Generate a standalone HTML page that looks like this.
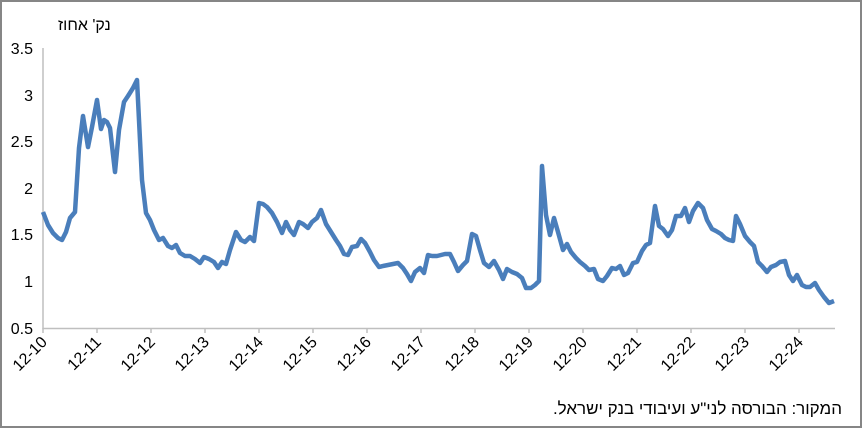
<!DOCTYPE html>
<html><head><meta charset="utf-8"><style>
body{margin:0;background:#fff}
svg{display:block}
text{font-family:"Liberation Sans","Noto Sans CJK SC",sans-serif;fill:#000}
</style></head><body>
<svg width="862" height="428" viewBox="0 0 862 428">
<rect x="1" y="1" width="860" height="426" fill="#fff" stroke="#868686" stroke-width="2"/>
<text x="58" y="30" font-size="16" text-anchor="end" direction="rtl">נק' אחוז</text>
<g font-size="16" text-anchor="end">
<text x="33" y="54">3.5</text><text x="33" y="101">3</text><text x="33" y="147">2.5</text>
<text x="33" y="194">2</text><text x="33" y="240">1.5</text><text x="33" y="287">1</text><text x="33" y="334">0.5</text>
</g>
<g stroke="#bfbfbf" stroke-width="1.5">
<line x1="43" y1="48" x2="43" y2="329"/>
<line x1="43" y1="328.5" x2="835" y2="328.5"/>
<path d="M43 328v5M97 328v5M151 328v5M205 328v5M259 328v5M313 328v5M367 328v5M421 328v5M475 328v5M529 328v5M583 328v5M637 328v5M691 328v5M745 328v5M799 328v5"/>
</g>
<g font-size="16" text-anchor="end">
<text transform="translate(48,343) rotate(-45)">12-10</text>
<text transform="translate(102,343) rotate(-45)">12-11</text>
<text transform="translate(156,343) rotate(-45)">12-12</text>
<text transform="translate(210,343) rotate(-45)">12-13</text>
<text transform="translate(264,343) rotate(-45)">12-14</text>
<text transform="translate(318,343) rotate(-45)">12-15</text>
<text transform="translate(372,343) rotate(-45)">12-16</text>
<text transform="translate(426,343) rotate(-45)">12-17</text>
<text transform="translate(480,343) rotate(-45)">12-18</text>
<text transform="translate(534,343) rotate(-45)">12-19</text>
<text transform="translate(588,343) rotate(-45)">12-20</text>
<text transform="translate(642,343) rotate(-45)">12-21</text>
<text transform="translate(696,343) rotate(-45)">12-22</text>
<text transform="translate(750,343) rotate(-45)">12-23</text>
<text transform="translate(804,343) rotate(-45)">12-24</text>
</g>
<polyline fill="none" stroke="#4a7ebb" stroke-width="4.5" stroke-linejoin="round" points="43,212 48,225 53,233 58,238 62,240 66,232 70,218 75,212 79,148 83,116 88,147 92,127 97,100 101,129 104,120 107,122 110,128 115,172 119,130 124,102 128,96 133,88 137,80 142,180 146,213 150,220 154,230 159,240 163,238 168,246 172,248 176,245 180,253 185,256 190,256 195,259 200,263 204,257 209,259 214,262 218,268 222,262 226,264 230,250 236,232 241,240 245,242 250,237 254,241 259,203 263,204 267,207 272,213 277,222 282,233 286,222 290,230 294,235 299,222 303,224 308,228 312,222 317,218 321,210 326,224 331,232 336,240 340,246 344,254 348,255 352,247 357,246 361,239 365,243 370,252 374,260 379,267 383,266 388,265 393,264 398,263 403,268 407,274 411,281 415,272 420,268 424,273 428,255 432,256 437,256 441,255 445,254 450,254 454,262 458,271 463,265 467,261 472,234 476,236 480,250 484,263 489,267 494,261 499,270 503,279 507,269 512,272 517,274 522,278 526,288 531,288 535,285 539,281 542,166 546,215 550,235 554,218 558,232 563,250 567,244 571,252 576,258 580,262 585,266 589,270 594,269 598,279 603,281 607,276 612,268 616,269 620,266 624,275 628,273 633,263 637,262 642,251 646,245 650,243 655,206 659,226 663,229 668,236 672,230 676,216 681,216 685,208 689,222 693,211 698,203 703,208 707,220 712,229 716,231 721,234 725,238 729,240 733,241 736,216 740,224 745,236 750,242 754,246 758,262 762,266 767,272 771,267 776,265 780,262 785,261 789,275 793,281 797,275 802,285 806,287 810,287 815,283 819,290 824,297 829,303 834,301"/>
<text x="842" y="414" font-size="17" text-anchor="start" direction="rtl">המקור: הבורסה לני"ע ועיבודי בנק ישראל.</text>
</svg>
</body></html>
